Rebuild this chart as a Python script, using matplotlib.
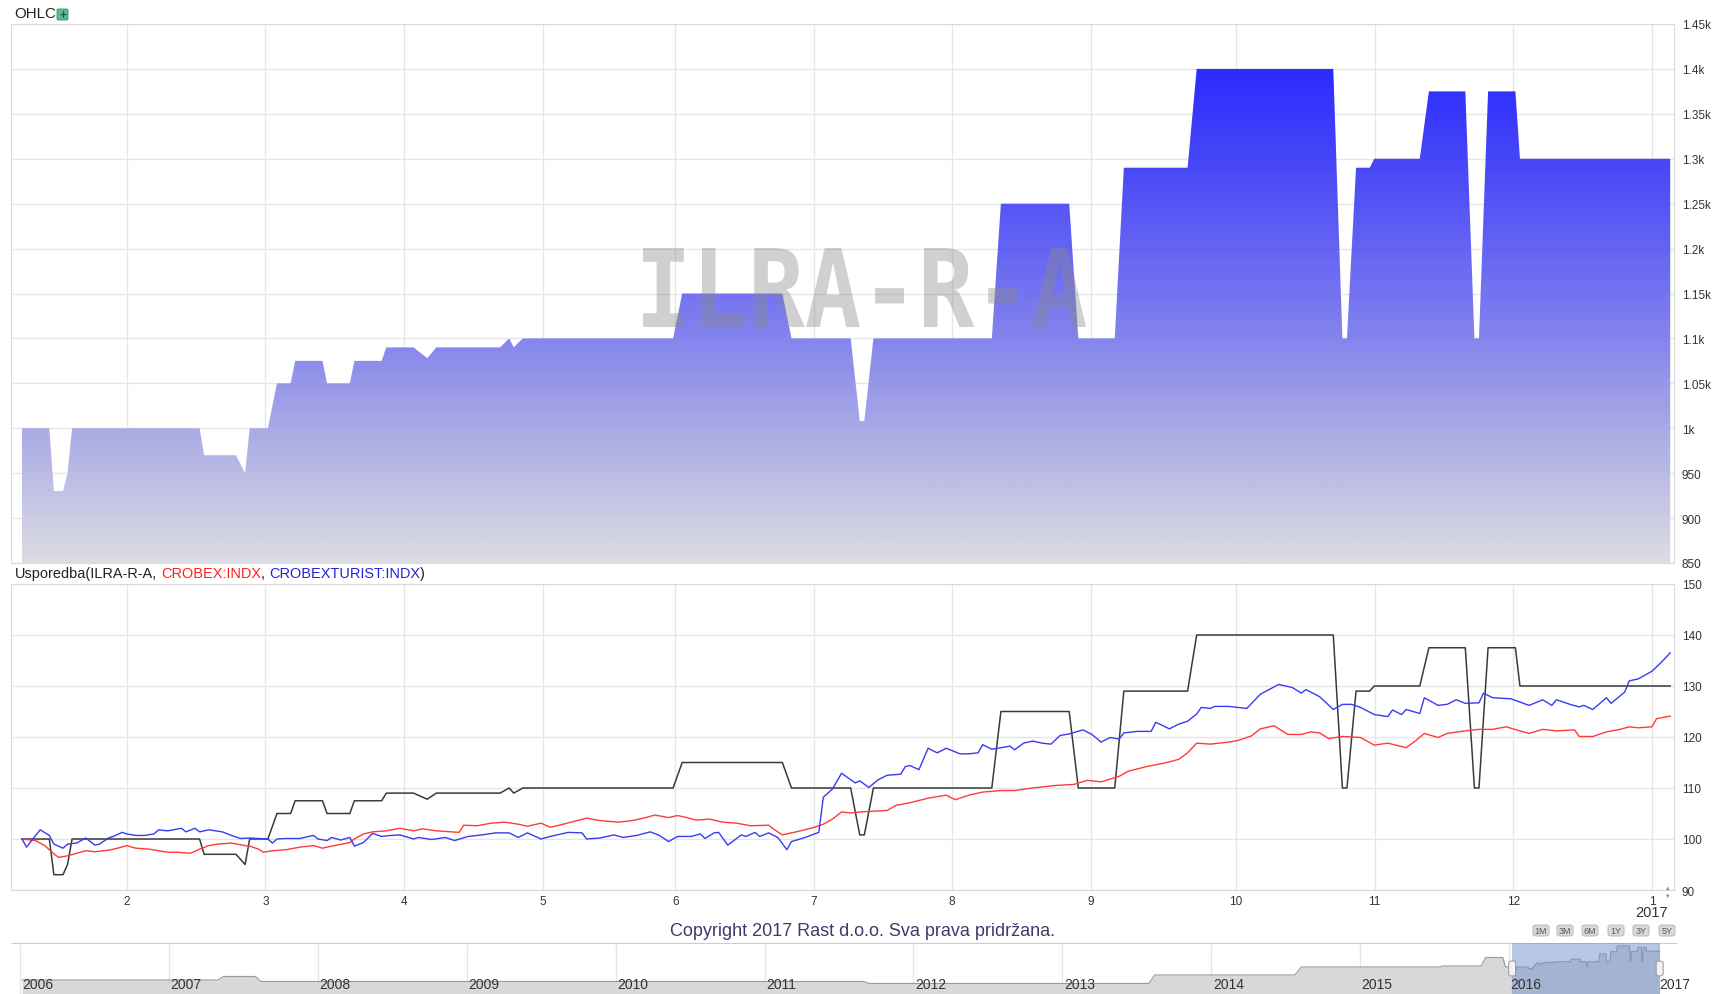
import matplotlib
matplotlib.use('Agg')
import matplotlib.pyplot as plt
import matplotlib.dates as mdates
import matplotlib.transforms as mtransforms
import numpy as np
from matplotlib.colors import LinearSegmentedColormap
from matplotlib.font_manager import FontProperties
from matplotlib.patches import PathPatch, FancyBboxPatch
from matplotlib.textpath import TextPath

# ILRA-R-A cijena (OHLC, zatvaranje)
ilra_dates = ['2016-01-09', '2016-01-15', '2016-01-16', '2016-01-18', '2016-01-19', '2016-01-20',
              '2016-02-17', '2016-02-18', '2016-02-25', '2016-02-27', '2016-02-28', '2016-03-03',
              '2016-03-05', '2016-03-08', '2016-03-09', '2016-03-15', '2016-03-16', '2016-03-21',
              '2016-03-22', '2016-03-28', '2016-03-29', '2016-04-04', '2016-04-07', '2016-04-09',
              '2016-04-23', '2016-04-25', '2016-04-26', '2016-04-28', '2016-05-31', '2016-06-02',
              '2016-06-24', '2016-06-26', '2016-07-09', '2016-07-11', '2016-07-12', '2016-07-14',
              '2016-08-09', '2016-08-11', '2016-08-26', '2016-08-28', '2016-09-05', '2016-09-07',
              '2016-09-21', '2016-09-23', '2016-10-23', '2016-10-25', '2016-10-26', '2016-10-28',
              '2016-10-31', '2016-11-01', '2016-11-11', '2016-11-13', '2016-11-21', '2016-11-23',
              '2016-11-24', '2016-11-26', '2016-12-02', '2016-12-03', '2017-01-05']
ilra_close = [1000, 1000, 930, 930, 950, 1000,
              1000, 970, 970, 950, 1000, 1000,
              1050, 1050, 1075, 1075, 1050, 1050,
              1075, 1075, 1090, 1090, 1078, 1090,
              1090, 1100, 1090, 1100, 1100, 1150,
              1150, 1100, 1100, 1008, 1008, 1100,
              1100, 1250, 1250, 1100, 1100, 1290,
              1290, 1400, 1400, 1100, 1100, 1290,
              1290, 1300, 1300, 1375, 1375, 1100,
              1100, 1375, 1375, 1300, 1300]

# CROBEX, usporedba (100 = početak)
crobex_dates = ['2016-01-09', '2016-01-12', '2016-01-14', '2016-01-16', '2016-01-17', '2016-01-19',
                '2016-01-21', '2016-01-23', '2016-01-25', '2016-01-28', '2016-01-30', '2016-02-01',
                '2016-02-03', '2016-02-06', '2016-02-10', '2016-02-12', '2016-02-15', '2016-02-17',
                '2016-02-19', '2016-02-21', '2016-02-24', '2016-02-27', '2016-02-28', '2016-03-01',
                '2016-03-02', '2016-03-04', '2016-03-07', '2016-03-10', '2016-03-13', '2016-03-15',
                '2016-03-17', '2016-03-21', '2016-03-22', '2016-03-24', '2016-03-26', '2016-03-29',
                '2016-04-01', '2016-04-04', '2016-04-06', '2016-04-09', '2016-04-14', '2016-04-15',
                '2016-04-18', '2016-04-21', '2016-04-24', '2016-04-27', '2016-04-29', '2016-05-02',
                '2016-05-04', '2016-05-06', '2016-05-09', '2016-05-12', '2016-05-15', '2016-05-19',
                '2016-05-22', '2016-05-25', '2016-05-27', '2016-05-30', '2016-06-01', '2016-06-03',
                '2016-06-05', '2016-06-08', '2016-06-11', '2016-06-14', '2016-06-17', '2016-06-21',
                '2016-06-22', '2016-06-24', '2016-06-25', '2016-06-28', '2016-07-01', '2016-07-03',
                '2016-07-05', '2016-07-07', '2016-07-09', '2016-07-11', '2016-07-17', '2016-07-19',
                '2016-07-22', '2016-07-26', '2016-07-30', '2016-08-01', '2016-08-04', '2016-08-07',
                '2016-08-11', '2016-08-14', '2016-08-18', '2016-08-23', '2016-08-27', '2016-08-30',
                '2016-09-02', '2016-09-06', '2016-09-08', '2016-09-12', '2016-09-16', '2016-09-19',
                '2016-09-21', '2016-09-23', '2016-09-26', '2016-09-30', '2016-10-02', '2016-10-05',
                '2016-10-07', '2016-10-10', '2016-10-13', '2016-10-16', '2016-10-18', '2016-10-20',
                '2016-10-22', '2016-10-25', '2016-10-29', '2016-11-01', '2016-11-04', '2016-11-08',
                '2016-11-10', '2016-11-12', '2016-11-15', '2016-11-17', '2016-11-21', '2016-11-24',
                '2016-11-27', '2016-11-30', '2016-12-03', '2016-12-05', '2016-12-08', '2016-12-11',
                '2016-12-15', '2016-12-16', '2016-12-19', '2016-12-22', '2016-12-25', '2016-12-27',
                '2016-12-29', '2017-01-01', '2017-01-02', '2017-01-05']
crobex_vals = [100.0, 99.7, 98.7, 97.1, 96.4, 96.7,
               97.2, 97.7, 97.5, 97.8, 98.2, 98.7,
               98.2, 98.0, 97.4, 97.4, 97.2, 98.0,
               98.7, 99.0, 99.2, 98.7, 98.6, 98.0,
               97.4, 97.7, 97.9, 98.4, 98.7, 98.2,
               98.6, 99.3, 100.0, 101.0, 101.4, 101.6,
               102.1, 101.6, 102.0, 101.6, 101.3, 102.7,
               102.6, 103.1, 103.3, 102.9, 102.5, 103.1,
               102.3, 102.7, 103.4, 104.1, 103.6, 103.3,
               103.6, 104.2, 104.7, 104.2, 104.6, 104.2,
               103.7, 103.9, 103.3, 103.1, 102.6, 102.7,
               102.0, 100.8, 101.0, 101.6, 102.3, 102.9,
               103.9, 105.3, 105.1, 105.3, 105.6, 106.6,
               107.1, 108.0, 108.6, 107.7, 108.6, 109.2,
               109.5, 109.5, 110.0, 110.5, 110.7, 111.5,
               111.2, 112.3, 113.3, 114.2, 114.9, 115.6,
               116.9, 118.8, 118.6, 119.0, 119.3, 120.2,
               121.6, 122.2, 120.5, 120.5, 121.0, 120.8,
               119.7, 120.1, 119.9, 118.4, 118.8, 117.9,
               119.2, 120.7, 119.9, 120.7, 121.2, 121.5,
               121.5, 122.0, 121.2, 120.7, 121.5, 121.2,
               121.4, 120.1, 120.1, 121.0, 121.5, 122.0,
               121.8, 122.0, 123.6, 124.1]

# CROBEXTURIST, usporedba (100 = početak)
turist_dates = ['2016-01-09', '2016-01-10', '2016-01-12', '2016-01-13', '2016-01-15', '2016-01-16',
                '2016-01-18', '2016-01-19', '2016-01-21', '2016-01-22', '2016-01-23', '2016-01-25',
                '2016-01-26', '2016-01-28', '2016-01-29', '2016-01-31', '2016-02-01', '2016-02-03',
                '2016-02-05', '2016-02-07', '2016-02-08', '2016-02-10', '2016-02-13', '2016-02-14',
                '2016-02-16', '2016-02-17', '2016-02-19', '2016-02-22', '2016-02-24', '2016-02-26',
                '2016-02-28', '2016-03-01', '2016-03-03', '2016-03-04', '2016-03-05', '2016-03-07',
                '2016-03-10', '2016-03-13', '2016-03-14', '2016-03-16', '2016-03-17', '2016-03-19',
                '2016-03-21', '2016-03-22', '2016-03-24', '2016-03-26', '2016-03-28', '2016-03-30',
                '2016-04-01', '2016-04-04', '2016-04-05', '2016-04-08', '2016-04-11', '2016-04-13',
                '2016-04-16', '2016-04-19', '2016-04-22', '2016-04-25', '2016-04-27', '2016-04-29',
                '2016-05-02', '2016-05-04', '2016-05-08', '2016-05-11', '2016-05-12', '2016-05-15',
                '2016-05-18', '2016-05-20', '2016-05-23', '2016-05-26', '2016-05-28', '2016-05-30',
                '2016-06-01', '2016-06-04', '2016-06-06', '2016-06-07', '2016-06-09', '2016-06-10',
                '2016-06-12', '2016-06-15', '2016-06-16', '2016-06-18', '2016-06-19', '2016-06-21',
                '2016-06-23', '2016-06-25', '2016-06-26', '2016-06-29', '2016-07-02', '2016-07-03',
                '2016-07-05', '2016-07-07', '2016-07-10', '2016-07-11', '2016-07-13', '2016-07-15',
                '2016-07-17', '2016-07-20', '2016-07-21', '2016-07-22', '2016-07-24', '2016-07-26',
                '2016-07-28', '2016-07-30', '2016-08-02', '2016-08-04', '2016-08-06', '2016-08-07',
                '2016-08-09', '2016-08-13', '2016-08-14', '2016-08-16', '2016-08-18', '2016-08-20',
                '2016-08-22', '2016-08-24', '2016-08-26', '2016-08-29', '2016-08-31', '2016-09-02',
                '2016-09-04', '2016-09-06', '2016-09-07', '2016-09-10', '2016-09-13', '2016-09-14',
                '2016-09-17', '2016-09-19', '2016-09-21', '2016-09-23', '2016-09-24', '2016-09-26',
                '2016-09-27', '2016-09-30', '2016-10-04', '2016-10-07', '2016-10-11', '2016-10-14',
                '2016-10-16', '2016-10-17', '2016-10-20', '2016-10-23', '2016-10-25', '2016-10-27',
                '2016-10-29', '2016-11-01', '2016-11-04', '2016-11-05', '2016-11-07', '2016-11-08',
                '2016-11-11', '2016-11-12', '2016-11-15', '2016-11-17', '2016-11-19', '2016-11-21',
                '2016-11-24', '2016-11-25', '2016-11-27', '2016-12-01', '2016-12-05', '2016-12-08',
                '2016-12-10', '2016-12-11', '2016-12-14', '2016-12-16', '2016-12-17', '2016-12-19',
                '2016-12-22', '2016-12-23', '2016-12-26', '2016-12-27', '2016-12-29', '2017-01-01',
                '2017-01-03', '2017-01-05']
turist_vals = [100.0, 98.4, 100.7, 101.8, 100.7, 99.0,
               98.2, 99.0, 99.2, 99.7, 100.2, 98.8,
               99.0, 100.2, 100.5, 101.3, 101.0, 100.7,
               100.7, 101.0, 101.8, 101.6, 102.1, 101.4,
               102.1, 101.4, 101.8, 101.4, 100.7, 100.1,
               100.2, 100.1, 100.0, 99.2, 100.0, 100.1,
               100.1, 100.7, 100.0, 99.7, 100.3, 99.8,
               100.3, 98.6, 99.3, 101.1, 100.5, 100.7,
               100.8, 100.0, 100.3, 99.9, 100.3, 99.7,
               100.5, 100.8, 101.2, 101.2, 100.3, 101.2,
               100.0, 100.5, 101.3, 101.2, 100.0, 100.2,
               100.8, 100.3, 100.7, 101.4, 100.7, 99.5,
               100.5, 100.5, 101.0, 100.1, 101.2, 101.3,
               98.8, 100.8, 100.5, 101.3, 100.5, 101.2,
               100.3, 97.9, 99.5, 100.3, 101.3, 108.2,
               109.8, 112.9, 111.0, 111.4, 110.1, 111.6,
               112.5, 112.7, 114.2, 114.4, 113.6, 117.8,
               116.9, 117.8, 116.7, 116.7, 116.9, 118.5,
               117.6, 118.2, 117.5, 118.8, 119.2, 118.8,
               118.6, 120.3, 120.6, 121.4, 120.5, 119.0,
               119.9, 119.6, 120.8, 121.1, 121.1, 122.9,
               121.6, 122.5, 123.1, 124.5, 125.8, 125.6,
               126.0, 126.0, 125.6, 128.4, 130.3, 129.7,
               128.6, 129.3, 127.9, 125.4, 126.4, 126.4,
               125.8, 124.4, 124.0, 125.3, 124.4, 125.4,
               124.6, 127.7, 126.2, 126.4, 127.3, 126.6,
               126.7, 128.6, 127.7, 127.5, 126.2, 127.3,
               126.2, 127.3, 126.4, 125.9, 126.2, 125.4,
               127.7, 126.6, 128.8, 131.0, 131.4, 132.9,
               134.6, 136.5]

# navigator: povijest ILRA-R-A 2006-2015 (dalje ilra_close)
nav_dates = ['2006-01-06', '2007-05-01', '2007-05-15', '2007-08-01', '2007-08-15', '2011-09-01',
             '2011-09-15', '2013-08-01', '2013-08-15', '2014-07-25', '2014-08-10', '2015-07-15',
             '2015-07-25', '2015-10-25', '2015-11-05', '2015-12-17', '2015-12-24']
nav_close = [752, 752, 819, 819, 724, 724,
             686, 686, 848, 848, 1000, 1000,
             1019, 1019, 1181, 1181, 1000]

# oznake mjeseci (os je po danima trgovanja)
month_ticks = ['2016-02-01T00:00', '2016-03-02T11:00', '2016-04-01T23:00', '2016-05-02T10:00',
               '2016-05-31T12:00', '2016-06-30T22:00', '2016-07-31T05:00', '2016-08-30T17:00',
               '2016-10-01T14:00', '2016-11-01T02:00', '2016-12-01T12:00', '2017-01-01T00:00']
month_labels = ['2', '3', '4', '5', '6', '7', '8', '9', '10', '11', '12', '1']
price_ticks = [850, 900, 950, 1000, 1050, 1100, 1150, 1200, 1250, 1300, 1350, 1400, 1450]
price_labels = ['850', '900', '950', '1k', '1.05k', '1.1k', '1.15k', '1.2k', '1.25k', '1.3k',
                '1.35k', '1.4k', '1.45k']
cmp_ticks = [90, 100, 110, 120, 130, 140, 150]
nav_years = [2006, 2007, 2008, 2009, 2010, 2011, 2012, 2013, 2014, 2015, 2016, 2017]
range_buttons = ['1M', '3M', '6M', '1Y', '3Y', '5Y']

W, H = 1727, 995


def fx(px):
    return px / W


def fy(py):
    return 1 - py / H


def dnum(lista):
    return mdates.date2num(np.array(lista, dtype='datetime64[m]'))


plt.rcParams['font.family'] = ['Liberation Sans', 'DejaVu Sans']

fig = plt.figure(figsize=(W / 100, H / 100), dpi=100)
fig.patch.set_facecolor('white')

ax1 = fig.add_axes([fx(11), fy(564), fx(1674) - fx(11), (564 - 25) / H])
ax2 = fig.add_axes([fx(11), fy(891), fx(1674) - fx(11), (891 - 585) / H])
ax3 = fig.add_axes([fx(12), fy(1000), fx(1676) - fx(12), 56 / H])

x_lo, x_hi = dnum(['2016-01-06T14:00', '2017-01-05T20:00'])
xi = dnum(ilra_dates)

# gornji panel - gradijent ispod cijene
boje = LinearSegmentedColormap.from_list('ilra', [
    (0.0, '#dcdce3'), (0.25, '#a9a9e6'), (0.4167, '#8484ee'), (0.5833, '#6464f3'),
    (0.75, '#4646f8'), (0.9167, '#2c2cfe'), (1.0, '#2020ff')])
grad = np.linspace(850, 1450, 400).reshape(-1, 1)
poly = ax1.fill_between(xi, ilra_close, 850, facecolor='none', edgecolor='none')
im = ax1.imshow(grad, extent=[x_lo, x_hi, 850, 1450], origin='lower', aspect='auto',
                cmap=boje, vmin=850, vmax=1450, zorder=1)
im.set_clip_path(poly.get_paths()[0], transform=ax1.transData)
ax1.set_ylim(850, 1450)
ax1.set_yticks(price_ticks)
ax1.set_yticklabels(price_labels)

# donji panel - usporedba
ilra_pct = [c / ilra_close[0] * 100 for c in ilra_close]
ax2.plot(xi, ilra_pct, color='#3a3a3a', lw=1.1, zorder=3)
ax2.plot(dnum(crobex_dates), crobex_vals, color='#ff3a3a', lw=1.0, zorder=3)
ax2.plot(dnum(turist_dates), turist_vals, color='#3a3af0', lw=1.0, zorder=4)
ax2.set_ylim(90, 150)
ax2.set_yticks(cmp_ticks)

for ax in (ax1, ax2):
    ax.set_xlim(x_lo, x_hi)
    ax.set_xticks(dnum(month_ticks))
    ax.grid(True, color='#e6e6e6', lw=1.0)
    ax.set_axisbelow(True)
    for s in ax.spines.values():
        s.set_color('#dadada')
    ax.yaxis.tick_right()
    ax.tick_params(axis='both', length=0, labelsize=8.5, colors='#333333')
    ax.tick_params(axis='y', pad=5.5)
ax1.tick_params(axis='x', labelbottom=False)
ax2.set_xticklabels(month_labels)
ax2.tick_params(axis='x', pad=3.5)

fig.text(fx(1652), fy(913), '2017', ha='center', va='center', fontsize=10.5, color='#333333')
fig.text(fx(1668), fy(888), '▲', ha='center', va='center', fontsize=4, color='#888888')
fig.text(fx(1668), fy(896), '▼', ha='center', va='center', fontsize=4, color='#888888')

# vodeni žig
fp = FontProperties(family='DejaVu Sans Mono', weight='bold')
tp = TextPath((0, 0), 'ILRA-R-A', size=100, prop=fp)
ext = tp.get_extents()
tr = mtransforms.Affine2D().translate(-ext.x0, -ext.y0).scale(443 / ext.width, 79 / ext.height)
tr = tr.translate(643, H - 328)
fig.add_artist(PathPatch(tp, transform=tr, facecolor='#8a8a8a', edgecolor='none',
                         alpha=0.4, zorder=5))

# naslovi
fig.text(fx(14), fy(14), 'OHLC', ha='left', va='center', fontsize=10.8, color='#222222')
fig.add_artist(FancyBboxPatch((fx(57), fy(21)), fx(11), 11 / H,
                              boxstyle='round,pad=0,rounding_size=0.001',
                              transform=fig.transFigure, facecolor='#5cb98a',
                              edgecolor='#3d8f66', lw=0.6))
fig.text(fx(62.5), fy(15.5), '+', ha='center', va='center', fontsize=8.5,
         color='#1d5e3c', fontweight='bold')

renderer = fig.canvas.get_renderer()
vel_naslova = 10.45


def sirina(s):
    t = fig.text(0, 0, s, fontsize=vel_naslova)
    w = t.get_window_extent(renderer).width
    t.remove()
    return w


dijelovi = ['Usporedba(ILRA-R-A, ', 'CROBEX:INDX', ', ', 'CROBEXTURIST:INDX', ')']
boje_t = ['#222222', '#ff2020', '#222222', '#2424d8', '#222222']
for k, (tekst, boja) in enumerate(zip(dijelovi, boje_t)):
    pocetak = ''.join(dijelovi[:k])
    pomak = sirina(pocetak + tekst.strip()) - sirina(tekst.strip()) if k else 0
    fig.text(fx(15 + pomak), fy(574), tekst.strip(), ha='left', va='center',
             fontsize=vel_naslova, color=boja)

fig.text(fx(863), fy(932), 'Copyright 2017 Rast d.o.o. Sva prava pridržana.', ha='center',
         va='center', fontsize=13, color='#3c3c6c')

btn_x = [1541, 1565, 1590, 1616, 1641, 1667]
for lab, bx in zip(range_buttons, btn_x):
    fig.add_artist(FancyBboxPatch((fx(bx - 8), fy(937)), fx(16), 11 / H,
                                  boxstyle='round,pad=0,rounding_size=0.002',
                                  transform=fig.transFigure, facecolor='#dadada',
                                  edgecolor='#b0b0b0', lw=0.6))
    fig.text(fx(bx), fy(931.5), lab, ha='center', va='center', fontsize=6.5, color='#555555')

# navigator
nav_x = np.concatenate([dnum(nav_dates), xi])
nav_y = nav_close + ilra_close
n_lo, n_hi = dnum(['2005-12-12', '2017-02-14'])
ax3.set_xlim(n_lo, n_hi)
ax3.set_ylim(390, 1457)
ax3.fill_between(nav_x, nav_y, 390, color='#d8d8d8', lw=0, zorder=2)
ax3.plot(nav_x, nav_y, color='#9a9a9a', lw=0.8, zorder=3)
ax3.axvspan(xi[0], xi[-1], facecolor='#6f90cc', alpha=0.5, lw=0, zorder=4)
god = dnum(['%d-01-01' % g for g in nav_years])
ax3.set_xticks(god)
ax3.set_yticks([])
ax3.grid(True, axis='x', color='#e6e6e6', lw=1.0)
ax3.set_axisbelow(True)
ax3.tick_params(length=0, labelbottom=False)
for k, s in ax3.spines.items():
    s.set_visible(k == 'top')
ax3.spines['top'].set_color('#cccccc')
for g, gx in zip(nav_years, god):
    ax3.text(gx + 4, 0.268, str(g), transform=ax3.get_xaxis_transform(), ha='left',
             va='center', fontsize=10, color='#333333', zorder=6)
for hx in (xi[0], xi[-1]):
    px = ax3.transData.transform((hx, 0))[0]
    fig.add_artist(FancyBboxPatch((fx(px - 3.5), fy(977)), fx(7), 15 / H,
                                  boxstyle='round,pad=0,rounding_size=0.002',
                                  transform=fig.transFigure, facecolor='#f2f2f2',
                                  edgecolor='#999999', lw=0.7, zorder=7))

fig.savefig('out.png', dpi=100)
